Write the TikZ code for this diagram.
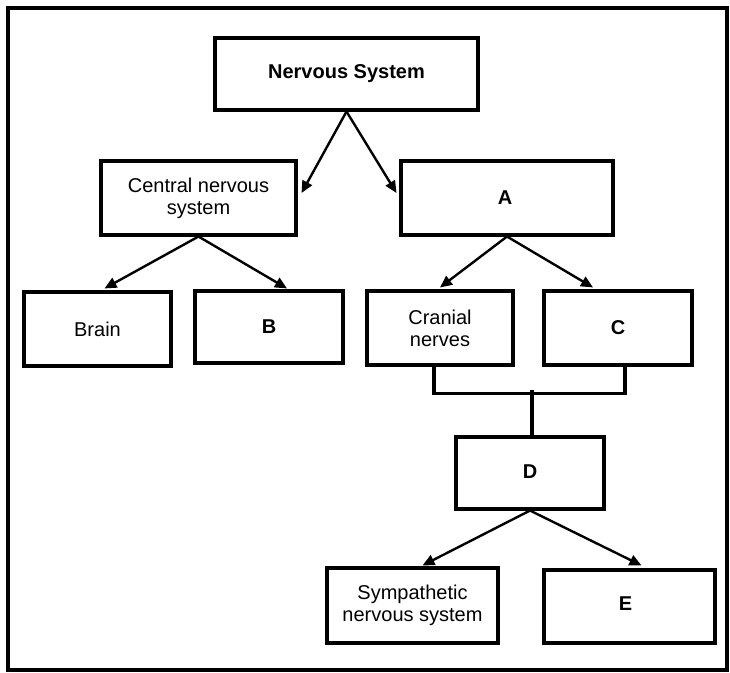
\documentclass[tikz,border=0pt]{standalone}
\usepackage{fontspec}
\setmainfont{Liberation Sans}
\usetikzlibrary{arrows.meta,calc}
\begin{document}
\begin{tikzpicture}[x=0.75pt,y=-0.75pt,
  box/.style={draw=black,line width=2.3pt,rectangle,inner sep=0pt,align=center,
    font=\fontsize{15pt}{16.5pt}\selectfont},
  conn/.style={line width=1.8pt,-{Triangle[length=9pt,width=8pt]}},
  link/.style={line width=2.3pt}]
\useasboundingbox (0,0) rectangle (730,673);
\draw[line width=2.4pt] (8,8) rectangle (727,670);
\node[box,minimum width=263*0.75pt,minimum height=72*0.75pt] (ns) at (346.5,74) {\raisebox{2.2pt}{\textbf{Nervous System}}};
\node[box,minimum width=195*0.75pt,minimum height=74*0.75pt] (cns) at (198.5,198) {Central nervous\\system};
\node[box,minimum width=212*0.75pt,minimum height=74*0.75pt] (a) at (507,198) {\raisebox{1.2pt}{\textbf{A}}\hspace{3pt}};
\node[box,minimum width=147*0.75pt,minimum height=74*0.75pt] (brain) at (97.5,329) {Brain};
\node[box,minimum width=148*0.75pt,minimum height=72*0.75pt] (b) at (269,327) {\textbf{B}\hspace{0pt}};
\node[box,minimum width=146*0.75pt,minimum height=74*0.75pt] (cranial) at (440,328) {Cranial\\nerves};
\node[box,minimum width=148*0.75pt,minimum height=74*0.75pt] (c) at (618,328) {\raisebox{1.2pt}{\textbf{C}}};
\node[box,minimum width=148*0.75pt,minimum height=72*0.75pt] (d) at (530,473) {\raisebox{1.5pt}{\textbf{D}}};
\node[box,minimum width=171*0.75pt,minimum height=75*0.75pt] (symp) at (412.5,605.5) {Sympathetic\\nervous system};
\node[box,minimum width=171*0.75pt,minimum height=73*0.75pt] (e) at (629.5,606.5) {\raisebox{4pt}{\textbf{E}}\hspace{6pt}};
% level 1
\draw[conn] (ns.south) -- ($(cns.east)+(4,-5)$);
\draw[conn] (ns.south) -- ($(a.west)+(-3,-5)$);
% level 2
\draw[conn] (cns.south) -- ($(brain.north)+(7,-2)$);
\draw[conn] (cns.south) -- ($(b.north)+(18,-1)$);
\draw[conn] (a.south) -- ($(cranial.north)+(0,-2)$);
\draw[conn] (a.south) -- ($(c.north)+(-25,-2)$);
% bracket
\coordinate (jl) at ($(cranial.south)+(-6,27)$);
\coordinate (jr) at ($(c.south)+(7,27)$);
\coordinate (jm) at ($(d.north)+(2,-45)$);
\draw[link] ($(cranial.south)+(-6,0)$) -- (jl) -- (jr) -- ($(c.south)+(7,0)$);
\draw[link] (jm) -- ($(d.north)+(2,0)$);
% level 3
\draw[conn] (d.south) -- ($(symp.north)+(10,-1)$);
\draw[conn] (d.south) -- ($(e.north)+(12,-3)$);
\end{tikzpicture}
\end{document}
